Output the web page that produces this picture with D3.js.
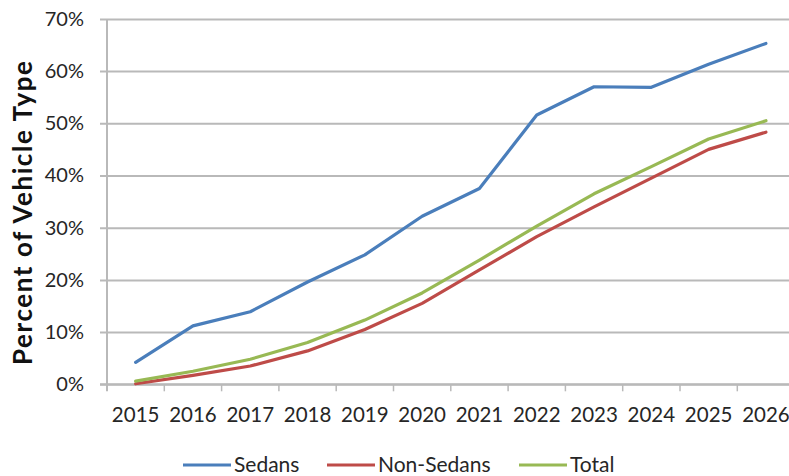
<!DOCTYPE html>
<html>
<head>
<meta charset="utf-8">
<script src="https://cdn.jsdelivr.net/npm/d3@7/dist/d3.min.js"></script>
<style>
  html, body { margin: 0; padding: 0; background: #fff; }
  svg { display: block; }
  text { font-family: Lato, "Open Sans", sans-serif; fill: #262626; }
</style>
</head>
<body>
<svg id="chart" width="789" height="476"></svg>
<script>
// Model years on the category axis
const years = ["2015","2016","2017","2018","2019","2020","2021","2022","2023","2024","2025","2026"];

// Share of each vehicle type, in percent
const sedans    = [4.2, 11.2, 13.9, 19.6, 24.8, 32.2, 37.5, 51.6, 57.0, 56.9, 61.3, 65.3];
const nonSedans = [0.1, 1.7, 3.5, 6.4, 10.5, 15.5, 21.9, 28.3, 34.0, 39.5, 45.0, 48.3];
const total     = [0.6, 2.5, 4.8, 8.0, 12.3, 17.5, 23.8, 30.3, 36.5, 41.7, 47.0, 50.5];

const yTicks = [0, 10, 20, 30, 40, 50, 60, 70];

const seriesNames = ["Sedans", "Non-Sedans", "Total"];
const seriesValues = [sedans, nonSedans, total];
const seriesColors = ["#4a7ebb", "#be4b48", "#98b954"];

const svg = d3.select("#chart");
const plotLeft = 107, plotRight = 794.6, plotTop = 18.9, plotBottom = 384.3;

const x = d3.scaleBand().domain(years).range([plotLeft, plotRight]).padding(0);
const y = d3.scaleLinear().domain([0, 70]).range([plotBottom, plotTop]);
const gridColor = "#b9b9b9";
const labelColor = "#222";

// Horizontal gridlines with small outward ticks
const yAxis = d3.axisLeft(y).tickValues(yTicks).tickSize(-(plotRight - plotLeft)).tickPadding(23)
  .tickFormat(d => d + "%");
const gy = svg.append("g").attr("transform", `translate(${plotLeft},0)`).call(yAxis);
gy.select(".domain").remove();
gy.selectAll(".tick line").attr("x1", -7).attr("stroke", gridColor).attr("stroke-width", 2);
gy.selectAll(".tick text").attr("font-size", 20).attr("fill", labelColor);

// Vertical axis line
svg.append("line").attr("x1", plotLeft).attr("x2", plotLeft).attr("y1", y(70)).attr("y2", plotBottom + 7)
  .attr("stroke", gridColor).attr("stroke-width", 2);

// Category axis: labels centred in each band, ticks on band boundaries
const xAxis = d3.axisBottom(x).tickSize(0).tickPadding(23);
const gx = svg.append("g").attr("transform", `translate(0,${plotBottom})`).call(xAxis);
gx.select(".domain").remove();
gx.selectAll(".tick text").attr("font-size", 20.5).attr("fill", labelColor);

svg.append("line").attr("x1", plotLeft - 7).attr("x2", plotRight).attr("y1", plotBottom).attr("y2", plotBottom)
  .attr("stroke", gridColor).attr("stroke-width", 2);
svg.append("g").selectAll("line").data(years).join("line")
  .attr("x1", d => x(d) + x.step()).attr("x2", d => x(d) + x.step())
  .attr("y1", plotBottom).attr("y2", plotBottom + 7)
  .attr("stroke", gridColor).attr("stroke-width", 1.5);

// Series lines
const line = d3.line()
  .x((d, i) => x(years[i]) + x.bandwidth() / 2)
  .y(d => y(d));

seriesValues.forEach((vals, k) => {
  svg.append("path").datum(vals)
    .attr("fill", "none")
    .attr("stroke", seriesColors[k])
    .attr("stroke-width", 3.2)
    .attr("stroke-linejoin", "round")
    .attr("stroke-linecap", "round")
    .attr("d", line);
});

// Axis title
svg.append("text")
  .attr("transform", `translate(32,213) rotate(-90)`)
  .attr("text-anchor", "middle")
  .attr("font-size", 26)
  .attr("font-weight", "bold")
  .attr("textLength", 304)
  .attr("lengthAdjust", "spacing")
  .style("fill", "#111")
  .text("Percent of Vehicle Type");

// Legend
const legendX = [183, 327, 519];
const legend = svg.append("g");
seriesNames.forEach((name, k) => {
  legend.append("line")
    .attr("x1", legendX[k]).attr("x2", legendX[k] + 48)
    .attr("y1", 465).attr("y2", 465)
    .attr("stroke", seriesColors[k]).attr("stroke-width", 3.2);
  legend.append("text")
    .attr("x", legendX[k] + 51).attr("y", 471.5)
    .attr("font-size", 21)
    .attr("fill", labelColor)
    .text(name);
});
</script>
</body>
</html>
